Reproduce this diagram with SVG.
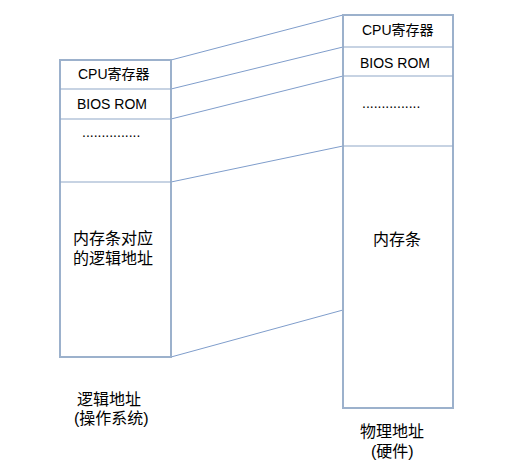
<svg xmlns="http://www.w3.org/2000/svg" width="517" height="473" viewBox="0 0 517 473">
<style>
.box{fill:#fff;stroke:#9cb1cc;stroke-width:2}
.div{stroke:#8fa8c8;stroke-width:1.2}
.con{stroke:#7f9dcb;stroke-width:1;fill:none}
text{font-family:"Liberation Sans","Noto Sans CJK SC",sans-serif;fill:#000}
.s{font-size:14px}
.m{font-size:16px}
</style>
<rect width="517" height="473" fill="#fff"/>
<g id="connectors">
<line class="con" x1="171" y1="60" x2="343" y2="15"/>
<line class="con" x1="171" y1="89" x2="343" y2="47"/>
<line class="con" x1="171" y1="119" x2="343" y2="76"/>
<line class="con" x1="171" y1="182" x2="343" y2="146"/>
<line class="con" x1="171" y1="357" x2="343" y2="310"/>
</g>
<g id="logical">
<rect class="box" x="60" y="60" width="111" height="297"/>
<line class="div" x1="60" y1="89" x2="171" y2="89"/>
<line class="div" x1="60" y1="119" x2="171" y2="119"/>
<line class="div" x1="60" y1="182" x2="171" y2="182"/>
<text class="s" x="78" y="79">CPU寄存器</text>
<text class="s" x="77" y="109">BIOS ROM</text>
<text class="s" x="82" y="137">...............</text>
<text class="m" x="73" y="244">内存条对应</text>
<text class="m" x="73" y="264">的逻辑地址</text>
</g>
<g id="physical">
<rect class="box" x="343" y="15" width="110" height="393"/>
<line class="div" x1="343" y1="47" x2="453" y2="47"/>
<line class="div" x1="343" y1="76" x2="453" y2="76"/>
<line class="div" x1="343" y1="146" x2="453" y2="146"/>
<text class="s" x="362" y="35">CPU寄存器</text>
<text class="s" x="360" y="68">BIOS ROM</text>
<text class="s" x="362" y="108">...............</text>
<text class="m" x="397" y="245" text-anchor="middle">内存条</text>
</g>
<g id="labels">
<text class="m" x="77" y="405">逻辑地址</text>
<text class="m" x="74" y="424">(操作系统)</text>
<text class="m" x="360" y="437">物理地址</text>
<text class="m" x="371" y="457">(硬件)</text>
</g>
</svg>
